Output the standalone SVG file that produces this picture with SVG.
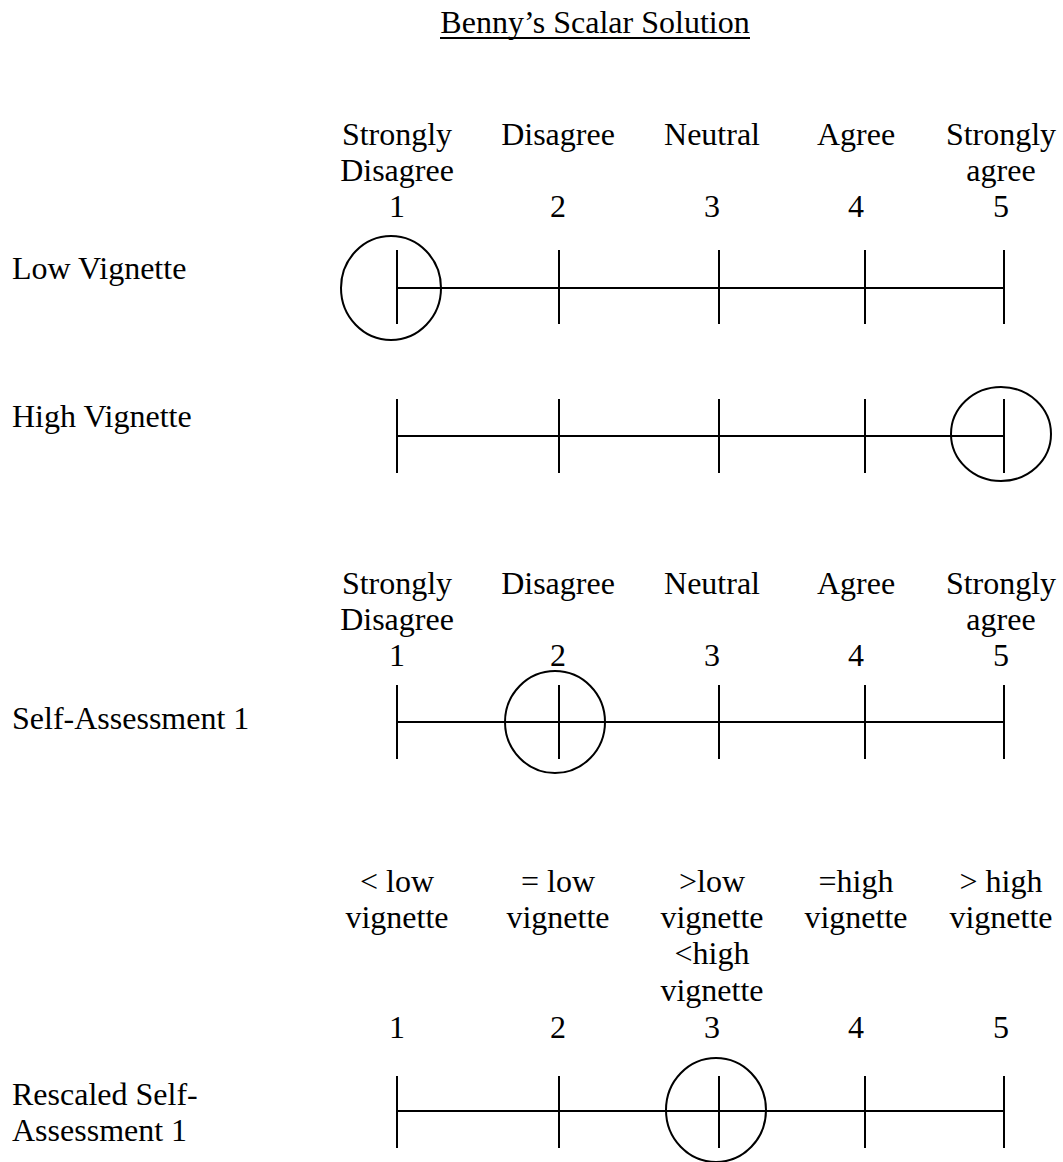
<svg xmlns="http://www.w3.org/2000/svg" width="1063" height="1162" viewBox="0 0 1063 1162">
<style>
text{font-family:"Liberation Serif","Times New Roman",serif;font-size:32px;fill:#000}
.c{text-anchor:middle}
.ln{stroke:#000;stroke-width:2;fill:none}
</style>
<rect width="1063" height="1162" fill="#fff"/>
<g id="title">
<text x="595" y="33" class="c">Benny’s Scalar Solution</text>
<line x1="440" y1="38" x2="750" y2="38" class="ln"/>
</g>
<g id="header1">
<text x="397" y="145" class="c">Strongly</text>
<text x="397" y="181" class="c">Disagree</text>
<text x="397" y="217" class="c">1</text>
<text x="558" y="145" class="c">Disagree</text>
<text x="558" y="217" class="c">2</text>
<text x="712" y="145" class="c">Neutral</text>
<text x="712" y="217" class="c">3</text>
<text x="856" y="145" class="c">Agree</text>
<text x="856" y="217" class="c">4</text>
<text x="1001" y="145" class="c">Strongly</text>
<text x="1001" y="181" class="c">agree</text>
<text x="1001" y="217" class="c">5</text>
</g>
<g id="low-vignette">
<text x="12" y="279">Low Vignette</text>
<g class="ln">
<line x1="397" y1="288" x2="1004" y2="288"/>
<line x1="397" y1="250" x2="397" y2="324"/>
<line x1="559" y1="250" x2="559" y2="324"/>
<line x1="719" y1="250" x2="719" y2="324"/>
<line x1="865" y1="250" x2="865" y2="324"/>
<line x1="1004" y1="250" x2="1004" y2="324"/>
<ellipse cx="391" cy="288" rx="50" ry="52"/>
</g>
</g>
<g id="high-vignette">
<text x="12" y="427">High Vignette</text>
<g class="ln">
<line x1="397" y1="436" x2="1004" y2="436"/>
<line x1="397" y1="399" x2="397" y2="473"/>
<line x1="559" y1="399" x2="559" y2="473"/>
<line x1="719" y1="399" x2="719" y2="473"/>
<line x1="865" y1="399" x2="865" y2="473"/>
<line x1="1004" y1="399" x2="1004" y2="473"/>
<ellipse cx="1001" cy="434" rx="50" ry="47"/>
</g>
</g>
<g id="header2">
<text x="397" y="594" class="c">Strongly</text>
<text x="397" y="630" class="c">Disagree</text>
<text x="397" y="666" class="c">1</text>
<text x="558" y="594" class="c">Disagree</text>
<text x="558" y="666" class="c">2</text>
<text x="712" y="594" class="c">Neutral</text>
<text x="712" y="666" class="c">3</text>
<text x="856" y="594" class="c">Agree</text>
<text x="856" y="666" class="c">4</text>
<text x="1001" y="594" class="c">Strongly</text>
<text x="1001" y="630" class="c">agree</text>
<text x="1001" y="666" class="c">5</text>
</g>
<g id="self-assessment">
<text x="12" y="729">Self-Assessment 1</text>
<g class="ln">
<line x1="397" y1="722" x2="1004" y2="722"/>
<line x1="397" y1="685" x2="397" y2="759"/>
<line x1="559" y1="685" x2="559" y2="759"/>
<line x1="719" y1="685" x2="719" y2="759"/>
<line x1="865" y1="685" x2="865" y2="759"/>
<line x1="1004" y1="685" x2="1004" y2="759"/>
<ellipse cx="555" cy="722" rx="50" ry="51"/>
</g>
</g>
<g id="header3">
<text x="397" y="892" class="c">&lt; low</text>
<text x="397" y="928" class="c">vignette</text>
<text x="397" y="1038" class="c">1</text>
<text x="558" y="892" class="c">= low</text>
<text x="558" y="928" class="c">vignette</text>
<text x="558" y="1038" class="c">2</text>
<text x="712" y="892" class="c">&gt;low</text>
<text x="712" y="928" class="c">vignette</text>
<text x="712" y="964" class="c">&lt;high</text>
<text x="712" y="1001" class="c">vignette</text>
<text x="712" y="1038" class="c">3</text>
<text x="856" y="892" class="c">=high</text>
<text x="856" y="928" class="c">vignette</text>
<text x="856" y="1038" class="c">4</text>
<text x="1001" y="892" class="c">&gt; high</text>
<text x="1001" y="928" class="c">vignette</text>
<text x="1001" y="1038" class="c">5</text>
</g>
<g id="rescaled">
<text x="12" y="1105">Rescaled Self-</text>
<text x="12" y="1141">Assessment 1</text>
<g class="ln">
<line x1="397" y1="1111" x2="1004" y2="1111"/>
<line x1="397" y1="1076" x2="397" y2="1148"/>
<line x1="559" y1="1076" x2="559" y2="1148"/>
<line x1="719" y1="1076" x2="719" y2="1148"/>
<line x1="865" y1="1076" x2="865" y2="1148"/>
<line x1="1004" y1="1076" x2="1004" y2="1148"/>
<ellipse cx="716" cy="1110" rx="50" ry="52"/>
</g>
</g>
</svg>
